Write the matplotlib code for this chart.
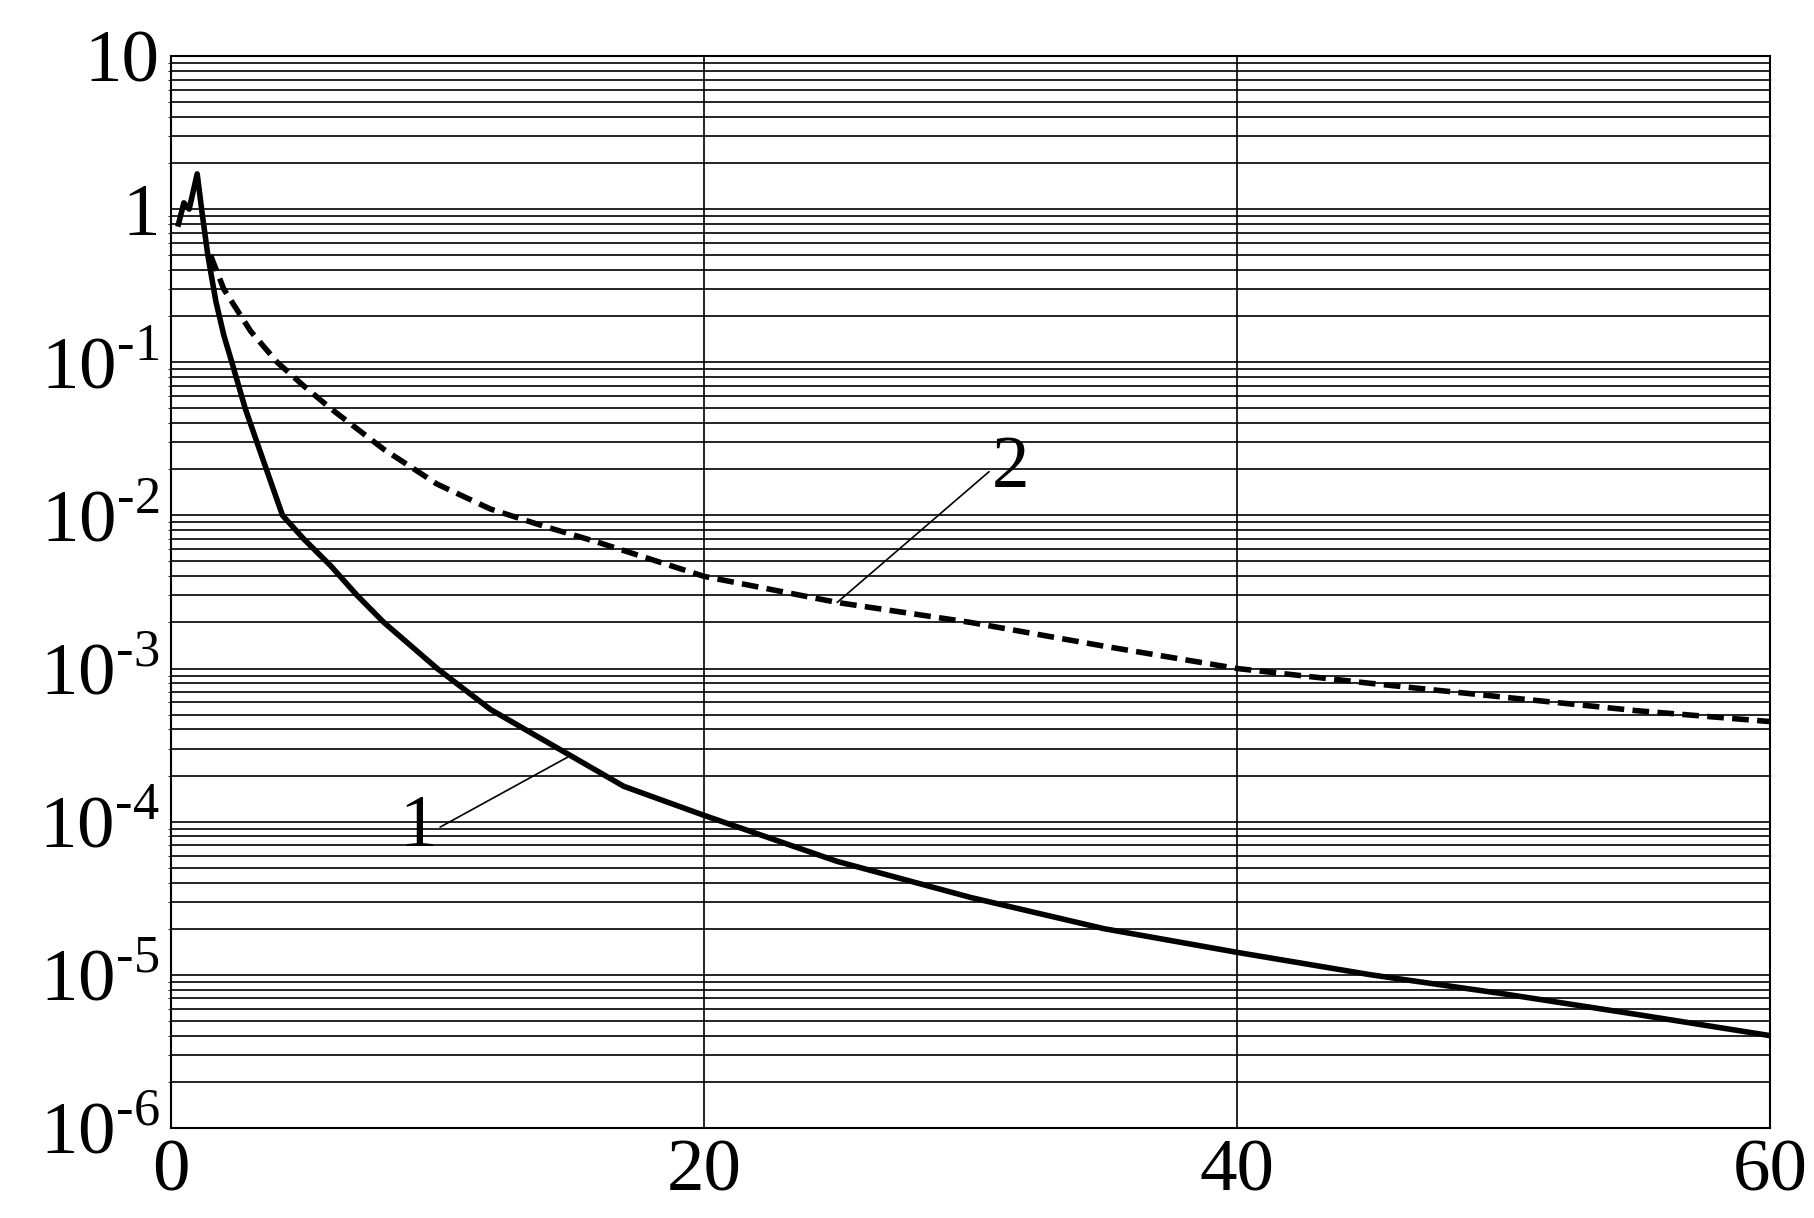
import matplotlib
matplotlib.use('Agg')
import matplotlib.pyplot as plt
from matplotlib.ticker import FixedLocator, NullFormatter

plt.rcParams['font.family'] = 'Liberation Serif'
plt.rcParams['mathtext.fontset'] = 'custom'
plt.rcParams['mathtext.rm'] = 'Liberation Serif'

# curve 1 (solid)
x1 = [0.3, 0.5, 0.7, 1.0, 1.2, 1.4, 1.7, 2.0, 2.3, 2.8, 3.4, 4.2, 5, 6, 7, 8, 10, 12, 15, 17,
      20, 25, 30, 35, 40, 45, 50, 55, 60]
y1 = [0.8, 1.1, 1.0, 1.7, 0.9, 0.5, 0.25, 0.15, 0.1, 0.05, 0.025, 0.01, 7e-3, 4.7e-3, 3e-3,
      2e-3, 1e-3, 5.4e-4, 2.7e-4, 1.7e-4, 1.1e-4, 5.5e-5, 3.2e-5, 2e-5, 1.4e-5, 1e-5,
      7.5e-6, 5.5e-6, 4e-6]
# curve 2 (dashed)
x2 = [1.5, 2, 3, 4, 5, 6, 8, 10, 12, 14, 16, 20, 25, 30, 35, 40, 45, 50, 55, 60]
y2 = [0.5, 0.3, 0.16, 0.1, 0.07, 0.05, 0.027, 0.016, 0.011, 8.5e-3, 6.7e-3, 4e-3, 2.7e-3,
      2e-3, 1.4e-3, 1e-3, 8e-4, 6.5e-4, 5.3e-4, 4.5e-4]

yticks = [1e-6, 1e-5, 1e-4, 1e-3, 1e-2, 1e-1, 1, 10]
ylabels = ['10$^{\u2010' + str(k) + '}$' for k in range(6, 0, -1)] + ['1', '10']
xticks = [0, 20, 40, 60]

fig = plt.figure(figsize=(18.14, 12.18), dpi=100)
ax = fig.add_axes([0.094, 0.074, 0.882, 0.88])
ax.set_yscale('log')
ax.set_xlim(0, 60)
ax.set_ylim(1e-6, 10)
minors = [m * 10.0 ** e for e in range(-6, 1) for m in range(2, 10)]
ax.yaxis.set_minor_locator(FixedLocator(minors))
ax.yaxis.set_minor_formatter(NullFormatter())
ax.set_yticks(yticks)
ax.set_yticklabels(ylabels)
ax.set_xticks(xticks)
ax.tick_params(length=0, labelsize=54, pad=8)
ax.grid(True, which='both', axis='y', color='black', lw=1.2)
ax.grid(True, which='major', axis='x', color='black', lw=1.2)
for s in ax.spines.values():
    s.set_linewidth(1.5)

ax.plot(x1, y1, color='black', lw=4)
ax.plot(x2, y2, color='black', lw=4, ls=(0, (3, 1.5)))

ax.annotate('1', xy=(15, 2.7e-4), xytext=(8.6, 9e-5), fontsize=54, va='center',
            arrowprops=dict(arrowstyle='-', color='black', lw=1.2, shrinkA=0, shrinkB=0,
                            relpos=(1, 0.5)))
ax.annotate('2', xy=(25, 2.7e-3), xytext=(30.8, 0.02), fontsize=54, va='center',
            arrowprops=dict(arrowstyle='-', color='black', lw=1.2, shrinkA=0, shrinkB=0,
                            relpos=(0, 0.5)))

fig.savefig('out.png', dpi=100, facecolor='white')
